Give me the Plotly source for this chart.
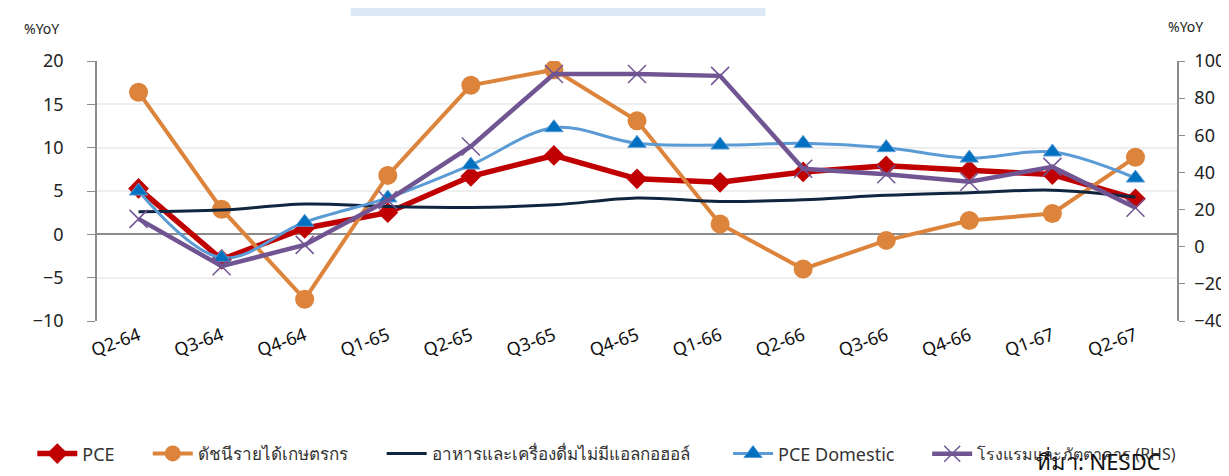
import plotly.graph_objects as go

categories = ["Q2-64", "Q3-64", "Q4-64", "Q1-65", "Q2-65", "Q3-65", "Q4-65",
              "Q1-66", "Q2-66", "Q3-66", "Q4-66", "Q1-67", "Q2-67"]
pce = [5.3, -2.9, 0.7, 2.5, 6.7, 9.1, 6.4, 6.0, 7.2, 7.9, 7.4, 6.9, 4.1]
farm_income = [16.4, 2.9, -7.5, 6.8, 17.2, 19.0, 13.1, 1.2, -4.0, -0.7, 1.6, 2.4, 8.9]
food_bev = [2.6, 2.8, 3.5, 3.2, 3.1, 3.4, 4.2, 3.8, 4.0, 4.5, 4.8, 5.1, 4.3]
pce_domestic = [5.0, -2.7, 1.4, 4.2, 8.0, 12.3, 10.5, 10.3, 10.5, 10.0, 8.8, 9.5, 6.5]
hotels_rhs = [15, -10.5, 1, 25, 54, 93, 93, 92, 42, 39, 35, 43, 21]

names = ["PCE", "ดัชนีรายได้เกษตรกร", "อาหารและเครื่องดื่มไม่มีแอลกอฮอล์",
         "PCE Domestic", "โรงแรมและภัตตาคาร (RHS)"]

FONT = "Tahoma, 'Noto Sans', 'DejaVu Sans', sans-serif"

fig = go.Figure()
fig.add_trace(go.Scatter(x=categories, y=pce, name=names[0], mode="lines+markers",
                         legend="legend",
                         line=dict(color="#c00000", width=5.5),
                         marker=dict(symbol="diamond", size=16, color="#c00000")))
fig.add_trace(go.Scatter(x=categories, y=farm_income, name=names[1], mode="lines+markers",
                         legend="legend2",
                         line=dict(color="#dd843c", width=4),
                         marker=dict(symbol="circle", size=19, color="#dd843c")))
fig.add_trace(go.Scatter(x=categories, y=food_bev, name=names[2], mode="lines",
                         legend="legend3",
                         line=dict(color="#10253f", width=3, shape="spline")))
fig.add_trace(go.Scatter(x=categories, y=pce_domestic, name=names[3], mode="lines+markers",
                         legend="legend4",
                         line=dict(color="#5b9bd5", width=3, shape="spline"),
                         marker=dict(symbol="triangle-up", size=16, color="#0070c0",
                                     line=dict(color="#5b9bd5", width=1))))
fig.add_trace(go.Scatter(x=categories, y=hotels_rhs, name=names[4], mode="lines+markers",
                         yaxis="y2", legend="legend5",
                         line=dict(color="#715593", width=4.5),
                         marker=dict(symbol="x-thin", size=18,
                                     line=dict(color="#715593", width=1.5))))


def leg(x, size):
    return dict(orientation="h", x=x, y=-0.511, xanchor="left", yanchor="middle",
                font=dict(size=size, color="#333333"), itemwidth=40,
                bgcolor="rgba(0,0,0,0)")


fig.update_layout(
    width=1229, height=476,
    margin=dict(l=89, r=55, t=53, b=157),
    paper_bgcolor="white", plot_bgcolor="white",
    font=dict(family=FONT, size=15, color="#222222"),
    showlegend=True,
    legend=leg(-0.0599, 18),
    legend2=leg(0.047, 17),
    legend3=leg(0.2636, 17),
    legend4=leg(0.5843, 18),
    legend5=leg(0.7687, 16),
    xaxis=dict(type="category", range=[-0.5, 12.5], tickangle=-20,
               showline=False, showgrid=False, ticks="",
               tickfont=dict(size=18, color="#111111")),
    yaxis=dict(range=[-10, 20], dtick=5, showline=True, linecolor="#8c8c8c", linewidth=1.5,
               ticks="outside", ticklen=8, tickcolor="#8c8c8c",
               ticklabelstandoff=20,
               showgrid=True, gridcolor="#eeeeee", gridwidth=1.5,
               zeroline=True, zerolinecolor="#8c8c8c", zerolinewidth=1.5,
               tickfont=dict(size=18, color="#222222")),
    yaxis2=dict(range=[-40, 100], dtick=20, overlaying="y", side="right",
                showline=True, linecolor="#8c8c8c", linewidth=1.5,
                ticks="outside", ticklen=6, tickcolor="#8c8c8c",
                ticklabelstandoff=6,
                showgrid=False, zeroline=False,
                tickfont=dict(size=18, color="#222222")),
    annotations=[
        dict(text="%YoY", xref="paper", yref="paper", x=-0.0516, y=1.124,
             xanchor="center", yanchor="middle",
             showarrow=False, font=dict(size=14, color="#222222")),
        dict(text="%YoY", xref="paper", yref="paper", x=1.0083, y=1.1316,
             xanchor="center", yanchor="middle",
             showarrow=False, font=dict(size=14, color="#222222")),
        dict(text="ที่มา: NESDC", xref="paper", yref="paper", x=0.927, y=-0.5376,
             xanchor="center", yanchor="middle",
             showarrow=False, font=dict(size=22, color="#111111")),
    ],
    shapes=[dict(type="rect", xref="paper", yref="paper", x0=0.235, x1=0.619,
                 y0=1.173, y1=1.25, fillcolor="#dde8f5", line=dict(width=0), layer="below")],
)

fig.write_html("out.html")
